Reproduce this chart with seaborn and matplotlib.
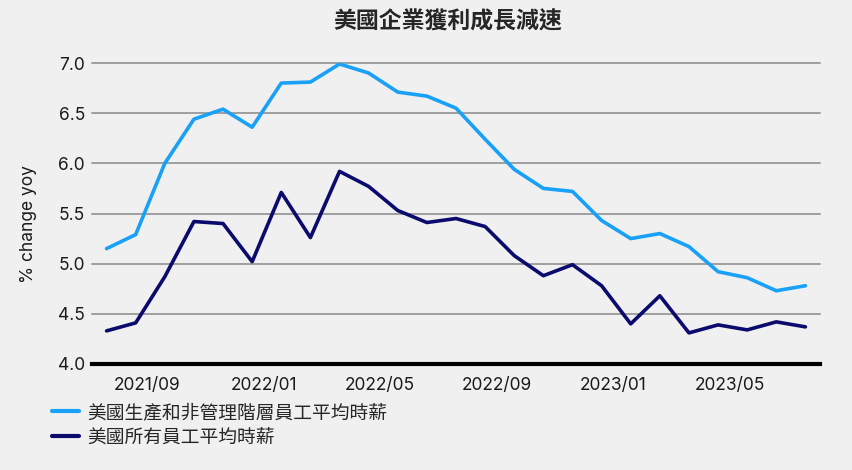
import numpy as np
import pandas as pd
import seaborn as sns
from matplotlib import pyplot as plt

# monthly data, 2021/07 - 2023/07
months = pd.period_range("2021-07", "2023-07", freq="M").strftime("%Y/%m").tolist()

prod_nonsup = [5.15, 5.29, 6.00, 6.44, 6.54, 6.36, 6.80, 6.81, 6.99, 6.90,
               6.71, 6.67, 6.55, 6.24, 5.94, 5.75, 5.72, 5.43, 5.25, 5.30,
               5.17, 4.92, 4.86, 4.73, 4.78]
all_emp = [4.33, 4.41, 4.87, 5.42, 5.40, 5.02, 5.71, 5.26, 5.92, 5.77,
           5.53, 5.41, 5.45, 5.37, 5.08, 4.88, 4.99, 4.78, 4.40, 4.68,
           4.31, 4.39, 4.34, 4.42, 4.37]

label_prod = "美國生產和非管理階層員工平均時薪"
label_all = "美國所有員工平均時薪"
tick_months = ["2021/09", "2022/01", "2022/05", "2022/09", "2023/01", "2023/05"]
y_ticks = [4.0, 4.5, 5.0, 5.5, 6.0, 6.5, 7.0]

df = pd.DataFrame({
    "idx": list(range(len(months))) * 2,
    "value": prod_nonsup + all_emp,
    "series": [label_prod] * len(months) + [label_all] * len(months),
})

sns.set_style("white")
plt.rcParams['font.family'] = ['Inter', 'Noto Sans CJK TC', 'DejaVu Sans']
bg = "#f0f0f0"

fig = plt.figure(figsize=(8.53, 4.70), dpi=100, facecolor=bg)
ax = fig.add_axes([92/853, 1-364/470, (820-92)/853, (364-63)/470], facecolor=bg)

sns.lineplot(data=df, x="idx", y="value", hue="series",
             palette={label_prod: "#19a0f7", label_all: "#0b0b6e"},
             linewidth=2.6, ax=ax, legend=False)

ax.set_xlim(-0.5, len(months) - 0.5)
ax.set_ylim(4.0, 7.0)
ax.set_yticks(y_ticks)
ax.set_yticklabels([f"{v:.1f}" for v in y_ticks], fontsize=12.5, color="#1a1a1a")
ax.set_xticks([months.index(m) - 0.6 for m in tick_months])
ax.set_xticklabels(tick_months, fontsize=12.5, color="#1a1a1a")
ax.tick_params(axis="both", length=0)
ax.tick_params(axis="x", pad=9)
ax.tick_params(axis="y", pad=5)

for y in y_ticks[1:]:
    ax.axhline(y, color="#9e9e9e", linewidth=1.4, zorder=0, clip_on=False)
for s in ["top", "right", "left"]:
    ax.spines[s].set_visible(False)
ax.spines["bottom"].set_color("black")
ax.spines["bottom"].set_linewidth(3)

ax.set_xlabel("")
ax.set_ylabel("% change yoy", fontsize=12.5, color="#1a1a1a")
ax.yaxis.set_label_coords(-0.0755, 0.465)

fig.text(448/853, 1-22/470, "美國企業獲利成長減速", ha="center", va="center",
         fontsize=16.5, fontweight="bold", family=['Noto Sans CJK TC'])

handles = [plt.Line2D([], [], color="#19a0f7", linewidth=3),
           plt.Line2D([], [], color="#0b0b6e", linewidth=3)]
fig.legend(handles, [label_prod, label_all], loc="upper left",
           bbox_to_anchor=(35/853, 1-385/470), frameon=False,
           prop={"family": "Noto Sans CJK TC", "size": 13.5},
           handlelength=1.45, handletextpad=0.45, labelspacing=0.2)

fig.savefig("out.png", dpi=100, facecolor=bg)
